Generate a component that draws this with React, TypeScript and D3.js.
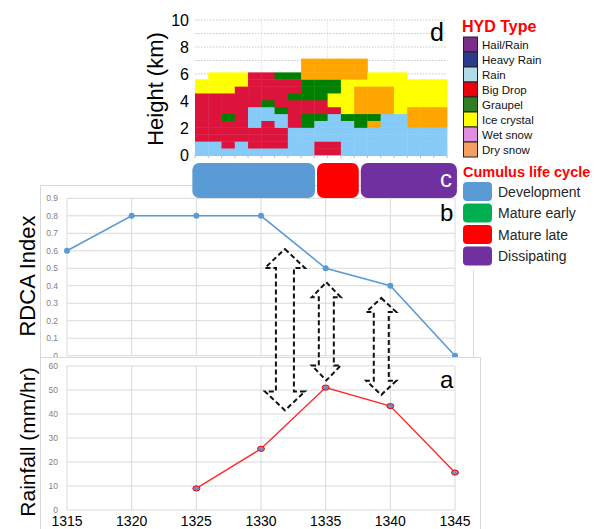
import { useEffect, useRef } from 'react';
import * as d3 from 'd3';

// time axis shared by panels a and b
const times = [1315, 1320, 1325, 1330, 1335, 1340, 1345];
const rdca = [0.6, 0.8, 0.8, 0.8, 0.5, 0.4, 0.0];
const rainfall = [null, null, 9, 25.5, 51, 43.3, 15.6];
const rdcaTicks = [0, 0.1, 0.2, 0.3, 0.4, 0.5, 0.6, 0.7, 0.8, 0.9];
const rainTicks = [0, 10, 20, 30, 40, 50, 60];
const heightTicks = [0, 2, 4, 6, 8, 10];

// panel d : one string per column, rows bottom -> top, 0.51 km each
// B rain, R big drop, G graupel, Y ice crystal, O dry snow, . nothing
const hydColumns = [
  'BBRRRRRRRYY...',
  'BBRRRRRRRYYY..',
  'BRRRRGRRRYYY..',
  'BBRRRRRRRRYY..',
  'BRRRBBBRRRRR..',
  'BRRRRBBGRRRR..',
  'BRRRBBGRRRRG..',
  'BBBBRRRRGRRG..',
  'BBBBGGRRGGGOOO',
  'RRBBBGRRGGGOOO',
  'RRBBBBRYYGGOOO',
  'BBBBBGYYYYYOOO',
  'BBBBGGOOOOYOOO',
  'BBBBOGOOOOYY..',
  'BBBBBBOOOOYY..',
  'BBBBBBYYYYYY..',
  'BBBBOOOYYYY...',
  'BBBBOOOYYYY...',
  'BBBBOOOYYYY...',
];
const hydRowKm = 0.51;
const cellColor: Record<string, string> = {
  B: '#86cbf7', R: '#dc143c', G: '#008000', Y: '#ffff00', O: '#ffa500',
};

const hydTypes = ['Hail/Rain', 'Heavy Rain', 'Rain', 'Big Drop', 'Graupel', 'Ice crystal', 'Wet snow', 'Dry snow'];
const hydColors = ['#7a2e8a', '#2e3a8c', '#b0dce8', '#e8000b', '#2f7f22', '#ffff00', '#e08ee0', '#f4a062'];

const stages = ['Development', 'Mature early', 'Mature late', 'Dissipating'];
const stageColors = ['#5b9bd5', '#00b050', '#ff0000', '#7030a0'];
// life cycle bar (c), in heat-map column units
const barStages = ['Development', 'Mature late', 'Dissipating'];
const barFrom = [-0.2, 9.2, 12.5];
const barTo = [9.05, 12.35, 19.75];

// dashed double arrows: time, top end (RDCA), bottom end (rainfall)
const arrowTimes = [1331.85, 1335.05, 1339.3];
const arrowTops = [0.61, 0.42, 0.33];
const arrowBottoms = [41.5, 54, 48];

const FONT = 'Liberation Sans, Arial, sans-serif';

export default function App() {
  const svgRef = useRef<SVGSVGElement>(null);

  useEffect(() => {
    const svg = d3.select(svgRef.current);
    svg.selectAll('*').remove();
    svg.attr('font-family', FONT);

    const x = d3.scaleLinear().domain([1315, 1345]).range([67, 455]);
    const yB = d3.scaleLinear().domain([0, 0.9]).range([355.7, 198.3]);
    const yA = d3.scaleLinear().domain([0, 60]).range([510, 366]);

    // ---- panel b
    svg.append('rect').attr('x', 40.5).attr('y', 185.5).attr('width', 433).attr('height', 190)
      .attr('fill', 'white').attr('stroke', '#d9d9d9');
    const gB = svg.append('g');
    gB.selectAll('line.h').data(rdcaTicks).join('line')
      .attr('x1', x(1315)).attr('x2', x(1345))
      .attr('y1', d => yB(d)).attr('y2', d => yB(d))
      .attr('stroke', '#d9d9d9');
    gB.selectAll('line.v').data(times).join('line')
      .attr('x1', d => x(d)).attr('x2', d => x(d))
      .attr('y1', yB(0.9)).attr('y2', yB(0))
      .attr('stroke', '#d9d9d9');
    gB.selectAll('text').data(rdcaTicks).join('text')
      .attr('x', 58).attr('y', d => yB(d) + 3)
      .attr('text-anchor', 'end').attr('font-size', 8.5).attr('fill', '#7f7f7f')
      .text(d => (d === 0 ? '0' : d.toFixed(1)));
    gB.append('path')
      .attr('d', d3.line<number>().x((_, i) => x(times[i])).y(d => yB(d))(rdca))
      .attr('fill', 'none').attr('stroke', '#5b9bd5').attr('stroke-width', 1.6);
    gB.selectAll('circle').data(rdca).join('circle')
      .attr('cx', (_, i) => x(times[i])).attr('cy', d => yB(d)).attr('r', 3)
      .attr('fill', '#5b9bd5');
    svg.append('text').attr('transform', 'translate(35,276) rotate(-90)')
      .attr('text-anchor', 'middle').attr('font-size', 22).text('RDCA Index');

    // ---- panel a
    svg.append('rect').attr('x', 40.5).attr('y', 357.5).attr('width', 440).attr('height', 200)
      .attr('fill', 'white').attr('stroke', '#d9d9d9');
    const gA = svg.append('g');
    gA.selectAll('line.h').data(rainTicks).join('line')
      .attr('x1', x(1315)).attr('x2', x(1345))
      .attr('y1', d => yA(d)).attr('y2', d => yA(d))
      .attr('stroke', '#d9d9d9');
    gA.selectAll('line.v').data(times).join('line')
      .attr('x1', d => x(d)).attr('x2', d => x(d))
      .attr('y1', yA(60)).attr('y2', yA(0))
      .attr('stroke', '#d9d9d9');
    gA.selectAll('text.t').data(rainTicks).join('text')
      .attr('x', 58).attr('y', d => yA(d) + 3)
      .attr('text-anchor', 'end').attr('font-size', 8.5).attr('fill', '#7f7f7f')
      .text(d => d);
    gA.selectAll('text.x').data(times).join('text')
      .attr('x', d => x(d)).attr('y', 526)
      .attr('text-anchor', 'middle').attr('font-size', 14).text(d => d);
    const rainLine = d3.line<number | null>()
      .defined(d => d != null)
      .x((_, i) => x(times[i])).y(d => yA(d as number));
    gA.append('path').attr('d', rainLine(rainfall))
      .attr('fill', 'none').attr('stroke', '#ff2a2a').attr('stroke-width', 1.4);
    gA.selectAll('ellipse').data(rainfall.map((v, i) => ({ v, t: times[i] })).filter(d => d.v != null))
      .join('ellipse')
      .attr('cx', d => x(d.t)).attr('cy', d => yA(d.v as number)).attr('rx', 3.5).attr('ry', 2.6)
      .attr('fill', '#6f8fc6').attr('stroke', '#ff0000').attr('stroke-width', 1);
    svg.append('text').attr('transform', 'translate(35,442) rotate(-90)')
      .attr('text-anchor', 'middle').attr('font-size', 21).text('Rainfall (mm/hr)');

    // ---- arrows between b and a
    const heads = [[40, 18, 19], [29, 15, 15], [30, 15, 14]];
    svg.selectAll('path.arrow').data(arrowTimes).join('path')
      .attr('d', (t, i) => {
        const cx = x(t), yt = yB(arrowTops[i]), yb = yA(arrowBottoms[i]);
        const [hw, sw, hl] = heads[i];
        const p = d3.path();
        p.moveTo(cx, yt);
        p.lineTo(cx + hw / 2, yt + hl); p.lineTo(cx + sw / 2, yt + hl);
        p.lineTo(cx + sw / 2, yb - hl); p.lineTo(cx + hw / 2, yb - hl);
        p.lineTo(cx, yb);
        p.lineTo(cx - hw / 2, yb - hl); p.lineTo(cx - sw / 2, yb - hl);
        p.lineTo(cx - sw / 2, yt + hl); p.lineTo(cx - hw / 2, yt + hl);
        p.closePath();
        return p.toString();
      })
      .attr('fill', 'none').attr('stroke', '#111').attr('stroke-width', 2)
      .attr('stroke-dasharray', '5,3');
    svg.append('text').attr('x', 440).attr('y', 388).attr('font-size', 24).text('a');
    svg.append('text').attr('x', 440).attr('y', 221).attr('font-size', 24).text('b');

    // ---- panel d heat map
    const xs = d3.scaleLinear().domain([0, hydColumns.length]).range([195, 447]);
    const yh = d3.scaleLinear().domain([0, 10]).range([155, 20]);
    const gD = svg.append('g');
    gD.selectAll('line.h').data(d3.range(1, 11)).join('line')
      .attr('x1', xs(0)).attr('x2', xs(19)).attr('y1', d => yh(d)).attr('y2', d => yh(d))
      .attr('stroke', '#c8c8c8').attr('stroke-dasharray', '1.5,1.5');
    gD.selectAll('line.v').data([5, 10, 15]).join('line')
      .attr('x1', d => xs(d)).attr('x2', d => xs(d)).attr('y1', yh(10)).attr('y2', yh(0))
      .attr('stroke', '#dcdcdc').attr('stroke-dasharray', '1.5,1.5');
    const cells = hydColumns.flatMap((col, c) =>
      col.split('').map((k, r) => ({ c, r, k })).filter(d => d.k !== '.'));
    gD.selectAll('rect').data(cells).join('rect')
      .attr('x', d => xs(d.c)).attr('y', d => yh((d.r + 1) * hydRowKm))
      .attr('width', xs(1) - xs(0) + 0.4)
      .attr('height', yh(0) - yh(hydRowKm) + 0.4)
      .attr('fill', d => cellColor[d.k]);
    gD.append('line').attr('x1', xs(0)).attr('x2', xs(19)).attr('y1', 155.5).attr('y2', 155.5)
      .attr('stroke', '#bbb');
    gD.selectAll('line.tk').data(d3.range(0, 20)).join('line')
      .attr('x1', d => xs(d)).attr('x2', d => xs(d)).attr('y1', 155).attr('y2', 158)
      .attr('stroke', '#bbb');
    gD.selectAll('text').data(heightTicks).join('text')
      .attr('x', 189).attr('y', d => yh(d) + 6)
      .attr('text-anchor', 'end').attr('font-size', 16).text(d => d);
    svg.append('text').attr('transform', 'translate(163,89) rotate(-90)')
      .attr('text-anchor', 'middle').attr('font-size', 22).text('Height (km)');
    svg.append('text').attr('x', 430).attr('y', 41).attr('font-size', 25).text('d');

    // ---- HYD legend
    svg.append('text').attr('x', 462).attr('y', 32).attr('font-size', 16).attr('font-weight', 'bold')
      .attr('fill', '#ff0000').text('HYD Type');
    const gH = svg.append('g');
    gH.selectAll('rect').data(hydTypes).join('rect')
      .attr('x', 463.5).attr('y', (_, i) => 37 + i * 15).attr('width', 14).attr('height', 15)
      .attr('fill', (_, i) => hydColors[i]).attr('stroke', '#222').attr('stroke-width', 1);
    gH.selectAll('text').data(hydTypes).join('text')
      .attr('x', 482).attr('y', (_, i) => 48.5 + i * 15)
      .attr('font-size', 11.5).attr('fill', '#111').text(d => d);

    // ---- panel c life cycle bar
    svg.selectAll('rect.stage').data(barStages).join('rect')
      .attr('x', (_, i) => xs(barFrom[i])).attr('y', 163)
      .attr('width', (_, i) => xs(barTo[i]) - xs(barFrom[i])).attr('height', 35)
      .attr('rx', 7)
      .attr('fill', d => stageColors[stages.indexOf(d)]);
    svg.append('text').attr('x', 440).attr('y', 187).attr('font-size', 24).attr('fill', 'white').text('c');

    // ---- life cycle legend
    svg.append('rect').attr('x', 459).attr('y', 158).attr('width', 146).attr('height', 112).attr('fill', 'white');
    svg.append('text').attr('x', 463).attr('y', 177).attr('font-size', 14.5).attr('font-weight', 'bold')
      .attr('fill', '#ff0000').text('Cumulus life cycle');
    const gL = svg.append('g');
    gL.selectAll('rect').data(stages).join('rect')
      .attr('x', 463).attr('y', (_, i) => 182 + i * 21.5).attr('width', 29).attr('height', 19)
      .attr('rx', 4).attr('fill', (_, i) => stageColors[i]);
    gL.selectAll('text').data(stages).join('text')
      .attr('x', 498).attr('y', (_, i) => 196.5 + i * 21.5)
      .attr('font-size', 14).attr('fill', '#262626').text(d => d);
  }, []);

  return (
    <svg ref={svgRef} width={605} height={529}
      style={{ position: 'absolute', left: 0, top: 0, background: 'white' }} />
  );
}
